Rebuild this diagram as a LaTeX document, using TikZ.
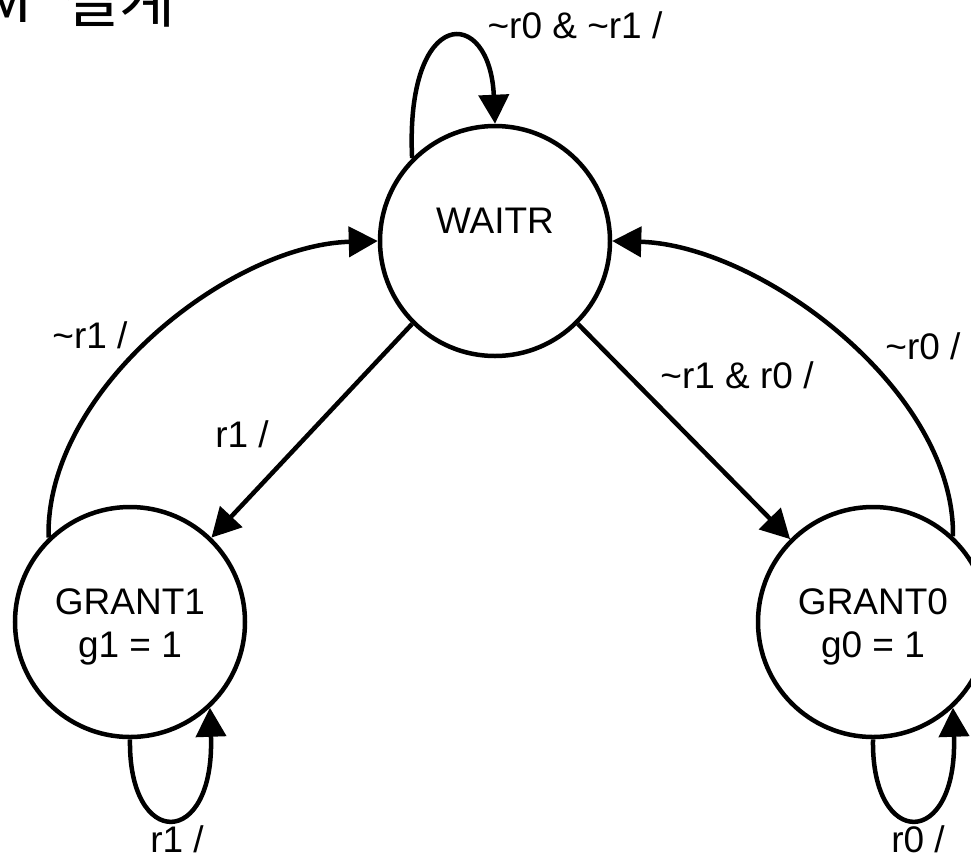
\documentclass[tikz,border=0pt]{standalone}
\usepackage{fontspec}
\setmainfont{Liberation Sans}
\newfontfamily\krfont{Noto Sans CJK KR}
\usetikzlibrary{arrows.meta}

% line strut so both lines of a state sit like the original boxes
\newcommand{\lnstrut}{\rule[-8pt]{0pt}{43pt}}

\begin{document}
\begin{tikzpicture}[x=1pt, y=-1pt,
        state/.style={draw, circle, line width=4.5pt, minimum size=230pt, inner sep=0pt,
            align=center, font=\fontsize{37}{43}\selectfont},
        trans/.style={line width=4.5pt, -{Triangle[length=29pt, width=30pt]}},
        lbl/.style={anchor=base, inner sep=0pt, font=\fontsize{37}{43}\selectfont}]
                % Picture frame
                \useasboundingbox (0,0) rectangle (971,860);

                % Title (cut by the page edge)
                \node[anchor=base east, inner sep=0pt, font=\krfont\fontsize{61}{66}\selectfont] (title) at (176,22) {M\hspace{18pt} 설계};

                % States
                \node[state] (wait) at (495,241) {WAITR\lnstrut\\\lnstrut};
                \node[state] (g1) at (130,622) {GRANT1\lnstrut\\g1 = 1\lnstrut};
                \node[state] (g0) at (873,622) {GRANT0\lnstrut\\g0 = 1\lnstrut};

                % Self loops
                \draw[trans] (wait.135) .. controls (405,5) and (490,5) .. (wait.90);
                \draw[trans] (g1.270) .. controls (128,850) and (215,850) .. (g1.313);
                \draw[trans] (g0.270) .. controls (871,850) and (958,850) .. (g0.313);

                % Out of WAITR
                \draw[trans] (wait.225) -- (g1.46);
                \draw[trans] (wait.315) -- (g0.135);

                % Back to WAITR
                \draw[trans] (g1.134) .. controls (45,390) and (230,245) .. (wait.180);
                \draw[trans] (g0.47) .. controls (955,390) and (760,245) .. (wait.0);

                % Labels
                \node[lbl] (lwait) at (575,38) {\textasciitilde r0 \& \textasciitilde r1 /};
                \node[lbl] (lback1) at (90,348) {\textasciitilde r1 /};
                \node[lbl] (lgo1) at (242,447) {r1 /};
                \node[lbl] (lgo0) at (737,388) {\textasciitilde r1 \& r0 /};
                \node[lbl] (lback0) at (923,359) {\textasciitilde r0 /};
                \node[lbl] (lstay1) at (177,852) {r1 /};
                \node[lbl] (lstay0) at (918,852) {r0 /};
            \end{tikzpicture}
\end{document}
